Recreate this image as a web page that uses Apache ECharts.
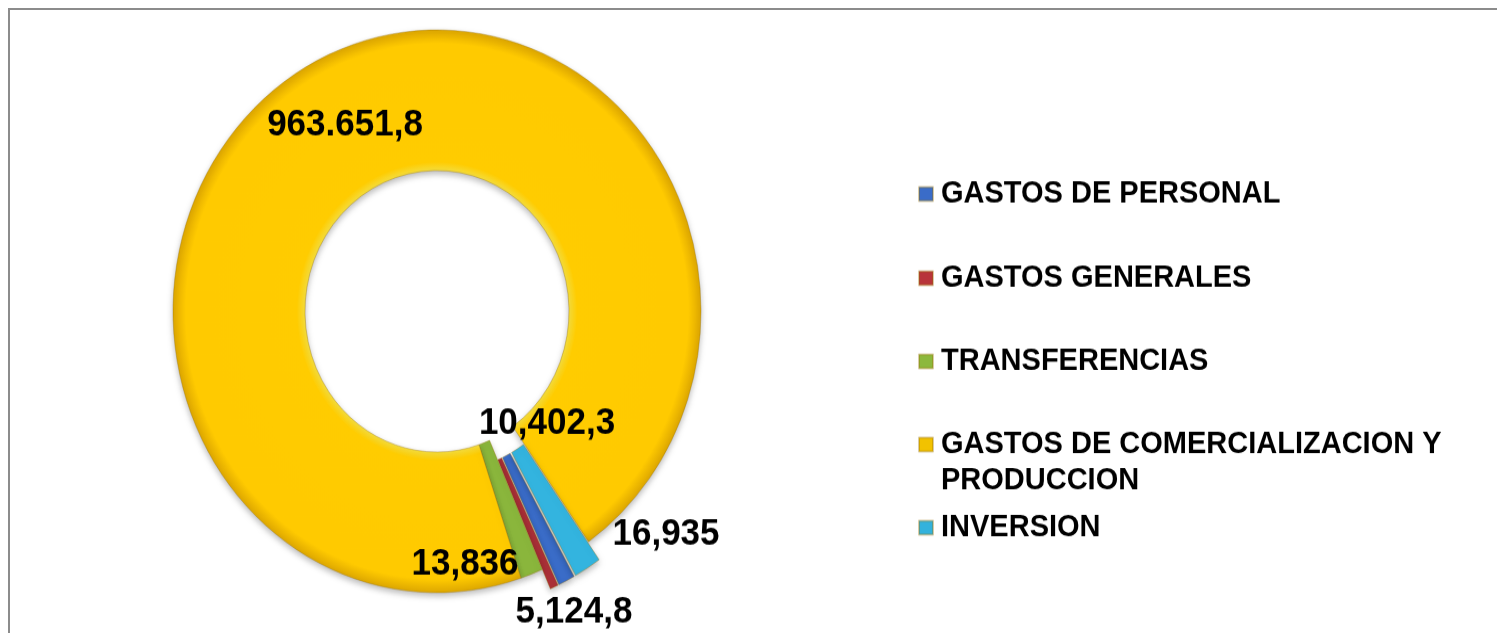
<!DOCTYPE html>
<html>
<head>
<meta charset="utf-8">
<script src="https://cdn.jsdelivr.net/npm/echarts@6/dist/echarts.min.js"></script>
<style>
  html, body { margin: 0; padding: 0; background: #fff; overflow: hidden; }
  #frame {
    position: absolute; left: 8px; top: 8px; width: 1497px; height: 633px;
    border-top: 2px solid #8c8c8c; border-left: 2px solid #8c8c8c;
  }
  /* the original picture is stretched vertically, so stretch the canvas the same way */
  #chart {
    position: absolute; left: 0; top: 0; width: 1497px; height: 594px;
    transform: scaleY(1.066); transform-origin: 0 0;
  }
</style>
</head>
<body>
<div id="frame"></div>
<div id="chart"></div>
<script>
const categories = [
  'GASTOS DE PERSONAL',
  'GASTOS GENERALES',
  'TRANSFERENCIAS',
  'GASTOS DE COMERCIALIZACION Y PRODUCCION',
  'INVERSION'
];
const values = [10402.3, 5124.8, 13836, 963651.8, 16935];
const valueLabels = ['10,402,3', '5,124,8', '13,836', '963.651,8', '16,935'];
const exploded = [true, true, false, false, true];

const colors = [
  '#3a6cc8',
  '#ab3038',
  '#8ab63c',
  {
    type: 'radial', x: 0.5, y: 0.5, r: 0.5,
    colorStops: [
      { offset: 0.5, color: '#f5dc3a' },
      { offset: 0.53, color: '#ffcc00' },
      { offset: 0.95, color: '#ffca00' },
      { offset: 1, color: '#dca600' }
    ]
  },
  '#33b4df'
];
const legendColors = ['#3a6cc8', '#b8343a', '#8cb83c', '#f2c200', '#33b2dc'];
// label centres, in the unstretched canvas
const labelPos = [[547, 397], [574, 574], [465, 529], [345, 117], [666, 501]];
const legendTops = [165, 244, 322, 366, 478];

const chart = echarts.init(document.getElementById('chart'), null, { renderer: 'canvas' });

const pieBase = {
  type: 'pie',
  center: [437, 292],
  radius: [132, 264],
  startAngle: -61,
  clockwise: true,
  avoidLabelOverlap: false,
  emphasis: { disabled: true }
};

const legends = categories.map((name, i) => ({
  data: [{ name, itemStyle: { color: legendColors[i] } }],
  orient: 'vertical',
  left: 918,
  top: legendTops[i],
  padding: 0,
  icon: 'rect',
  itemWidth: 14,
  itemHeight: 13,
  selectedMode: false,
  formatter: n => (n.indexOf(' Y ') > 0 ? '\n' + n.replace(' Y ', ' Y\n') : n),
  textStyle: {
    fontFamily: 'Liberation Sans, Arial, sans-serif',
    fontWeight: 'bold',
    fontSize: 29,
    lineHeight: 34,
    color: '#000',
    padding: [0, 0, 0, 3]
  }
}));

chart.setOption({
  animation: false,
  legend: legends,
  series: [
    Object.assign({}, pieBase, {
      name: 'slices',
      selectedMode: 'multiple',
      selectedOffset: 20,
      itemStyle: {
        borderColor: 'rgba(150,110,0,0.35)',
        borderWidth: 1,
        shadowColor: 'rgba(0,0,0,0.28)',
        shadowBlur: 6,
        shadowOffsetY: 3
      },
      label: { show: false },
      labelLine: { show: false },
      data: categories.map((name, i) => ({
        name,
        value: values[i],
        selected: exploded[i],
        itemStyle: { color: colors[i] }
      }))
    }),
    // same data again, transparent, only to carry the value labels
    Object.assign({}, pieBase, {
      name: 'labels',
      silent: true,
      itemStyle: { color: 'rgba(0,0,0,0)' },
      label: {
        show: true,
        position: 'inside',
        formatter: p => valueLabels[p.dataIndex],
        fontFamily: 'Liberation Sans, Arial, sans-serif',
        fontWeight: 'bold',
        fontSize: 35,
        color: '#000'
      },
      labelLayout: p => ({
        x: labelPos[p.dataIndex][0],
        y: labelPos[p.dataIndex][1],
        align: 'center',
        verticalAlign: 'middle'
      }),
      labelLine: { show: false },
      data: categories.map((name, i) => ({ name, value: values[i] }))
    })
  ]
});
</script>
</body>
</html>
